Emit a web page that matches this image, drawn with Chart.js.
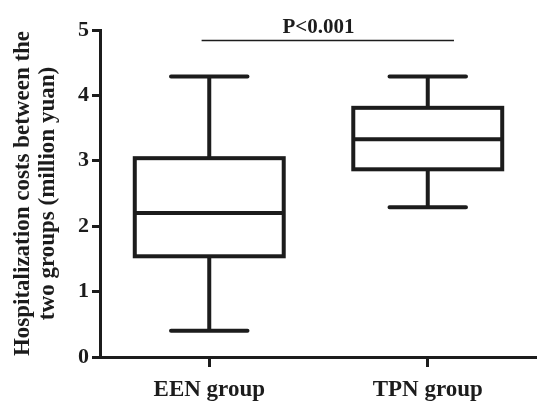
<!DOCTYPE html>
<html>
<head>
<meta charset="utf-8">
<title>Hospitalization costs</title>
<script src="https://cdn.jsdelivr.net/npm/chart.js@4/dist/chart.umd.min.js"></script>
<style>
  html, body { margin: 0; padding: 0; background: #fff; }
  #wrap { width: 537px; height: 401px; position: relative; }
</style>
</head>
<body>
<div id="wrap"><canvas id="mycanvas"></canvas></div>
<script>
// box plot values (million yuan)
var groups = ["EEN group", "TPN group"];
var minVals = [0.40, 2.29];
var q1Vals = [1.54, 2.87];
var medianVals = [2.20, 3.33];
var q3Vals = [3.04, 3.81];
var maxVals = [4.29, 4.29];
var yTicks = [0, 1, 2, 3, 4, 5];

// significance bracket
var pText = "P<0.001";
var pLineY = 4.84;
var pLineFrom = -0.035;
var pLineTo = 1.12;
var pTextY = 4.96;

var ink = "#1c1c1c";
var serif = "'Liberation Serif', 'Times New Roman', serif";

var boxData = [];
for (var i in groups) {
  boxData.push([q1Vals[i], q3Vals[i]]);
}

// draws boxes, whiskers, medians and the P bracket using the chart scales
var boxPlotPlugin = {
  id: "boxplot",
  afterDraw: function(chart) {
    var ctx = chart.ctx;
    var xs = chart.scales.x;
    var ys = chart.scales.y;
    var meta = chart.getDatasetMeta(0);
    ctx.save();
    ctx.strokeStyle = ink;
    ctx.lineCap = "butt";
    for (var i = 0; i < groups.length; i++) {
      var bar = meta.data[i];
      var cx = bar.x;
      var half = bar.width / 2;
      var lw = 4;
      var yMin = ys.getPixelForValue(minVals[i]);
      var yQ1 = ys.getPixelForValue(q1Vals[i]);
      var yMed = ys.getPixelForValue(medianVals[i]);
      var yQ3 = ys.getPixelForValue(q3Vals[i]);
      var yMax = ys.getPixelForValue(maxVals[i]);
      ctx.lineWidth = lw;
      // box
      ctx.strokeRect(cx - half + lw / 2, yQ3, bar.width - lw, yQ1 - yQ3);
      ctx.beginPath();
      // median
      ctx.moveTo(cx - half + lw / 2, yMed);
      ctx.lineTo(cx + half - lw / 2, yMed);
      // whiskers
      ctx.moveTo(cx, yQ3);
      ctx.lineTo(cx, yMax);
      ctx.moveTo(cx, yQ1);
      ctx.lineTo(cx, yMin);
      ctx.stroke();
      // caps
      ctx.lineCap = "round";
      ctx.beginPath();
      ctx.moveTo(cx - half / 2, yMax);
      ctx.lineTo(cx + half / 2, yMax);
      ctx.moveTo(cx - half / 2, yMin);
      ctx.lineTo(cx + half / 2, yMin);
      ctx.stroke();
      ctx.lineCap = "butt";
    }
    // P value bracket
    var ly = ys.getPixelForValue(pLineY);
    ctx.lineWidth = 1.6;
    ctx.beginPath();
    ctx.moveTo(xs.getPixelForValue(pLineFrom), ly);
    ctx.lineTo(xs.getPixelForValue(pLineTo), ly);
    ctx.stroke();
    ctx.fillStyle = ink;
    ctx.font = "bold 21px " + serif;
    ctx.textAlign = "center";
    ctx.textBaseline = "alphabetic";
    ctx.fillText(pText, xs.getPixelForValue(0.5), ys.getPixelForValue(pTextY));
    ctx.restore();
  }
};

var ctx = document.getElementById("mycanvas");
var chart = new Chart(ctx, {
  type: "bar",
  data: {
    labels: groups,
    datasets: [{
      data: boxData,
      backgroundColor: "rgba(0,0,0,0)",
      borderWidth: 0,
      barPercentage: 1,
      categoryPercentage: 0.7
    }]
  },
  plugins: [boxPlotPlugin],
  options: {
    responsive: true,
    maintainAspectRatio: false,
    animation: false,
    layout: { padding: { top: 30, left: 0, right: 0, bottom: 0 } },
    plugins: {
      legend: { display: false },
      tooltip: { enabled: false }
    },
    scales: {
      x: {
        offset: true,
        afterFit: function(scale) { scale.height = 44; },
        border: { display: true, color: ink, width: 3 },
        grid: {
          offset: false,
          drawOnChartArea: false,
          drawTicks: true,
          tickLength: 10,
          tickWidth: 3,
          tickColor: ink
        },
        ticks: {
          color: ink,
          padding: 9,
          font: { family: serif, size: 23, weight: "bold" }
        }
      },
      y: {
        min: 0,
        max: 5,
        afterFit: function(scale) { scale.width = 100; },
        afterBuildTicks: function(scale) {
          scale.ticks = yTicks.map(function(v) { return { value: v }; });
        },
        border: { display: true, color: ink, width: 3 },
        grid: {
          drawOnChartArea: false,
          drawTicks: true,
          tickLength: 8,
          tickWidth: 3,
          tickColor: ink
        },
        ticks: {
          color: ink,
          padding: 3,
          font: { family: serif, size: 22, weight: "bold" }
        },
        title: {
          display: true,
          text: ["Hospitalization costs between the", "two groups (million yuan)"],
          color: ink,
          padding: { top: 11, bottom: 0 },
          font: { family: serif, size: 23, weight: "bold", lineHeight: 1.08 }
        }
      }
    }
  }
});
</script>
</body>
</html>
